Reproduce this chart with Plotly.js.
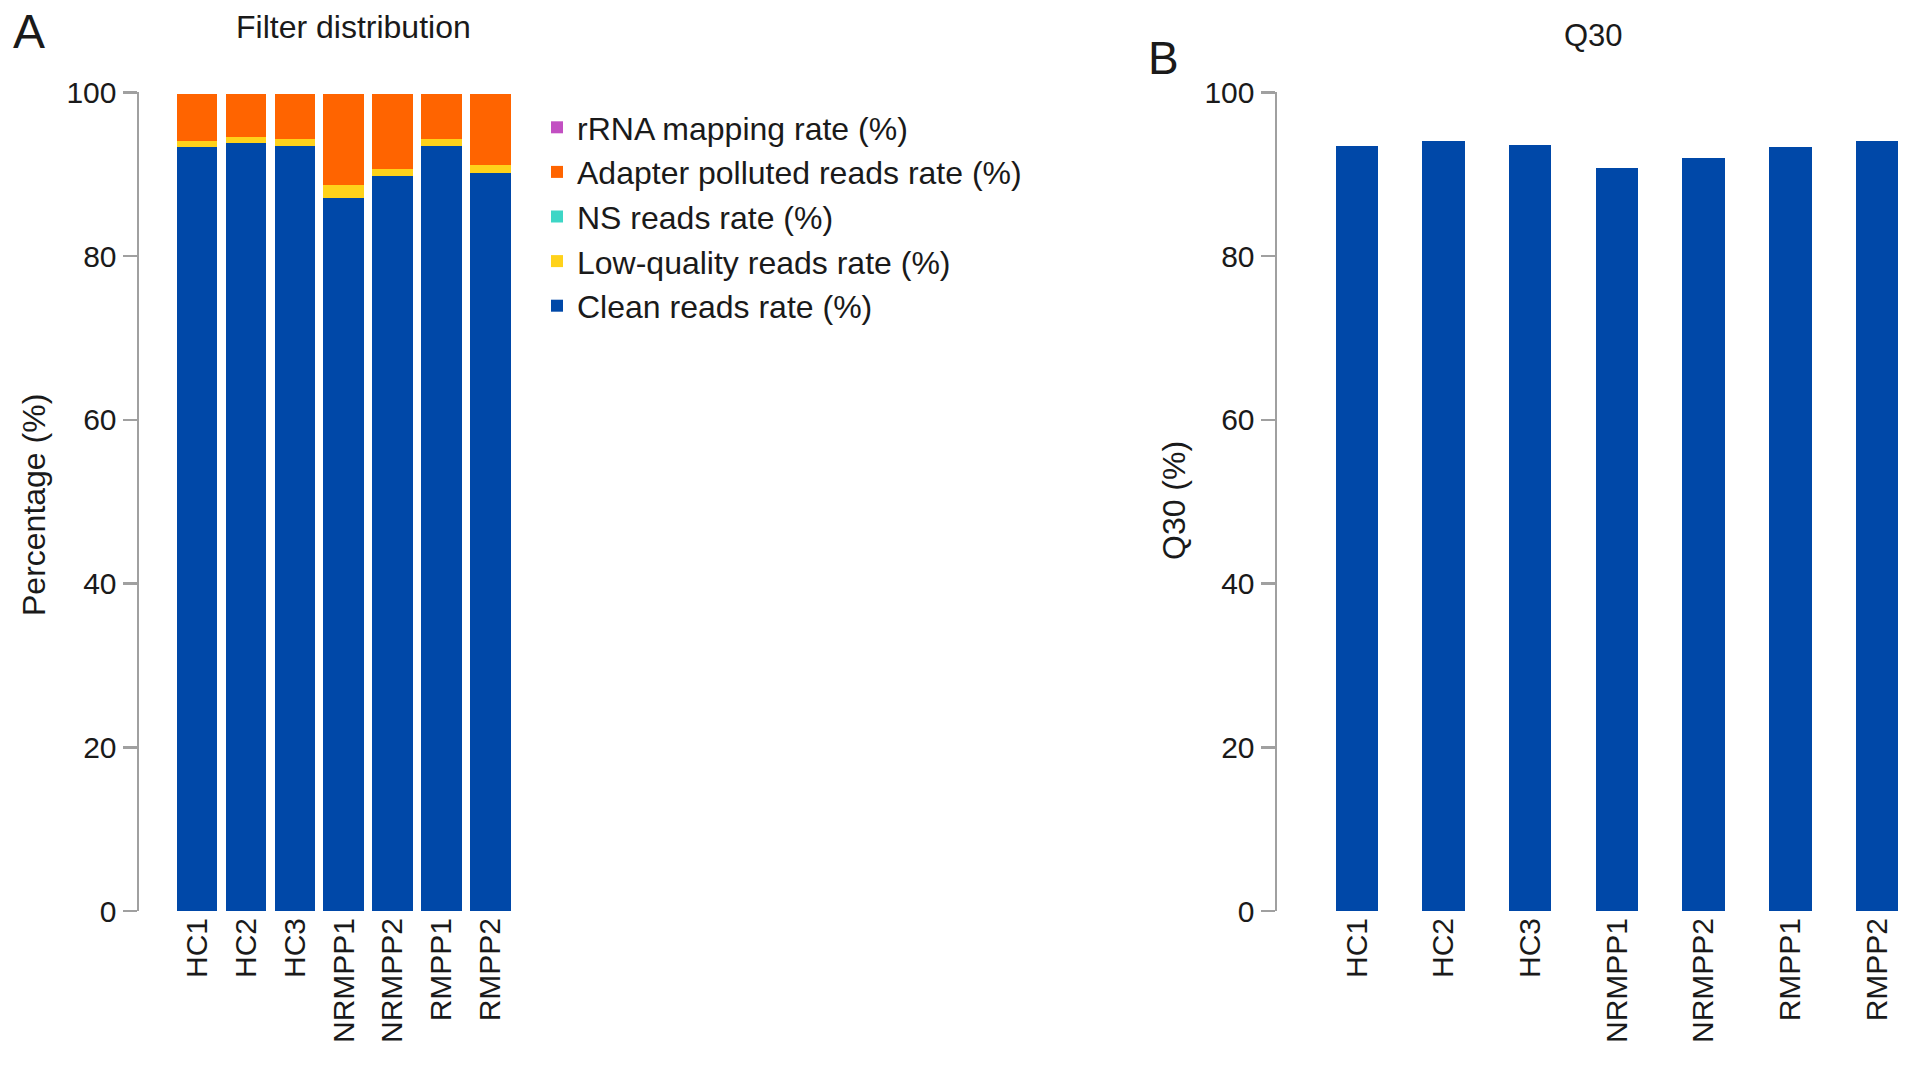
<!DOCTYPE html>
<html>
<head>
<meta charset="utf-8">
<script src="https://cdn.plot.ly/plotly-3.0.1.min.js"></script>
<style>
  html, body { margin: 0; padding: 0; background: #ffffff; }
  #chart { width: 1913px; height: 1076px; }
</style>
</head>
<body>
<div id="chart"></div>
<script>
// ---- data ----
const samples = ["HC1", "HC2", "HC3", "NRMPP1", "NRMPP2", "RMPP1", "RMPP2"];
const cleanRate   = [93.3, 93.8, 93.5, 87.1, 89.8, 93.4, 90.2];
const lowQuality  = [0.8, 0.7, 0.8, 1.6, 0.8, 0.9, 0.9];
const nsRate      = [0.01, 0.01, 0.01, 0.01, 0.01, 0.01, 0.01];
const adapterRate = [5.67, 5.27, 5.47, 11.07, 9.17, 5.47, 8.67];
const rrnaRate    = [0.02, 0.02, 0.02, 0.02, 0.02, 0.02, 0.02];
const q30         = [93.5, 94.0, 93.6, 90.8, 92.0, 93.35, 94.0];
const yTicks      = [0, 20, 40, 60, 80, 100];

const FONT = "Liberation Sans, Arial, Helvetica, sans-serif";
const TXT = "#1a1a1a";
const AX = "#a0a0a0";

const leftW = 0.83, rightW = 0.49;

const traces = [
  {type: "bar", name: "Clean reads rate (%)", x: samples, y: cleanRate,
   marker: {color: "#0048a8"}, width: leftW, xaxis: "x", yaxis: "y"},
  {type: "bar", name: "Low-quality reads rate (%)", x: samples, y: lowQuality,
   marker: {color: "#ffd21a"}, width: leftW, xaxis: "x", yaxis: "y"},
  {type: "bar", name: "NS reads rate (%)", x: samples, y: nsRate,
   marker: {color: "#3dd6c6"}, width: leftW, xaxis: "x", yaxis: "y"},
  {type: "bar", name: "Adapter polluted reads rate (%)", x: samples, y: adapterRate,
   marker: {color: "#ff6400"}, width: leftW, xaxis: "x", yaxis: "y"},
  {type: "bar", name: "rRNA mapping rate (%)", x: samples, y: rrnaRate,
   marker: {color: "#c24fc2"}, width: leftW, xaxis: "x", yaxis: "y"},
  {type: "bar", name: "Q30", x: samples, y: q30, showlegend: false,
   marker: {color: "#0048a8"}, width: rightW, xaxis: "x2", yaxis: "y2"}
];

const yDomain = [(1076 - 911) / 1076, (1076 - 92.3) / 1076];

function yAxis(anchor) {
  return {
    anchor: anchor, domain: yDomain, range: [0, 100], autorange: false,
    tickvals: yTicks, ticktext: yTicks.map(String),
    showgrid: false, zeroline: false,
    showline: true, linecolor: AX, linewidth: 2.5,
    ticks: "outside", ticklen: 14, tickwidth: 2.5, tickcolor: AX,
    tickfont: {family: FONT, size: 30, color: TXT},
    automargin: false, fixedrange: true
  };
}
function xAxis(anchor, domain, range) {
  return {
    anchor: anchor, domain: domain, range: range, autorange: false,
    type: "category", showgrid: false, zeroline: false, showline: false,
    ticks: "", tickangle: -90,
    tickfont: {family: FONT, size: 30, color: TXT},
    automargin: false, fixedrange: true
  };
}

const layout = {
  width: 1913, height: 1076,
  margin: {l: 0, r: 0, t: 0, b: 0, pad: 0},
  paper_bgcolor: "#ffffff", plot_bgcolor: "#ffffff",
  barmode: "stack",
  showlegend: true,
  font: {family: FONT, color: TXT},
  xaxis: xAxis("y", [139 / 1913, 514.8 / 1913], [-1.19, 6.5]),
  yaxis: yAxis("x"),
  xaxis2: xAxis("y2", [1277 / 1913, 1], [-0.92, 6.415]),
  yaxis2: yAxis("x2"),
  legend: {
    x: 537 / 1913, xanchor: "left",
    y: (1076 - 100) / 1076, yanchor: "top",
    traceorder: "reversed",
    font: {family: FONT, size: 32, color: TXT},
    bgcolor: "rgba(0,0,0,0)", borderwidth: 0,
    tracegroupgap: 0, itemclick: false, itemdoubleclick: false
  },
  annotations: [
    {text: "A", xref: "paper", yref: "paper", x: 29 / 1913, y: (1076 - 32) / 1076,
     xanchor: "center", yanchor: "middle", showarrow: false,
     font: {family: FONT, size: 48, color: TXT}},
    {text: "B", xref: "paper", yref: "paper", x: 1163 / 1913, y: (1076 - 58) / 1076,
     xanchor: "center", yanchor: "middle", showarrow: false,
     font: {family: FONT, size: 46, color: TXT}},
    {text: "Filter distribution", xref: "paper", yref: "paper", x: 353 / 1913, y: (1076 - 27) / 1076,
     xanchor: "center", yanchor: "middle", showarrow: false,
     font: {family: FONT, size: 32, color: TXT}},
    {text: "Q30", xref: "paper", yref: "paper", x: 1593 / 1913, y: (1076 - 35) / 1076,
     xanchor: "center", yanchor: "middle", showarrow: false,
     font: {family: FONT, size: 31, color: TXT}},
    {text: "Percentage (%)", xref: "paper", yref: "paper", x: 34 / 1913, y: (1076 - 505) / 1076,
     xanchor: "center", yanchor: "middle", showarrow: false, textangle: -90,
     font: {family: FONT, size: 32, color: TXT}},
    {text: "Q30 (%)", xref: "paper", yref: "paper", x: 1174 / 1913, y: (1076 - 501) / 1076,
     xanchor: "center", yanchor: "middle", showarrow: false, textangle: -90,
     font: {family: FONT, size: 32, color: TXT}}
  ]
};

Plotly.newPlot("chart", traces, layout, {displayModeBar: false, staticPlot: true, responsive: false});
</script>
</body>
</html>
